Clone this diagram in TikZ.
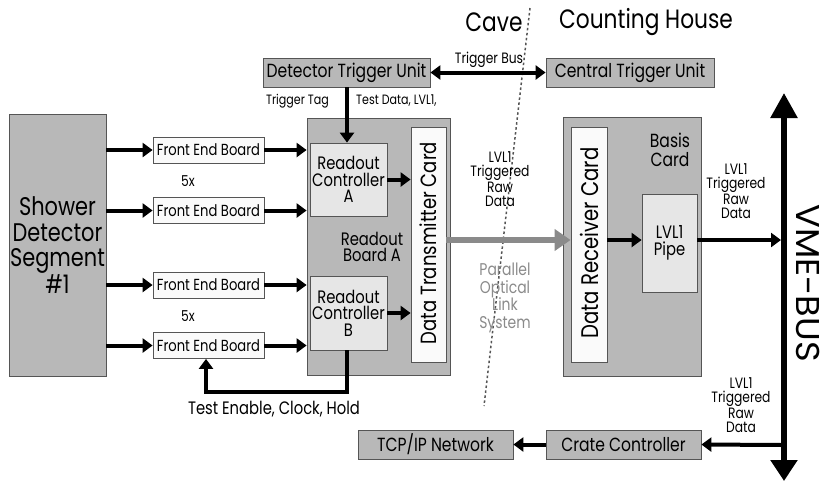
\documentclass[tikz,border=0pt]{standalone}
\usepackage{fontspec}
\setmainfont{Poppins}[FakeStretch=0.82]
\usetikzlibrary{arrows.meta}
\definecolor{boxgray}{HTML}{B8B8B8}
\definecolor{lightbox}{HTML}{E6E6E6}
\definecolor{whitebox}{HTML}{FAFAFA}
\definecolor{edge}{HTML}{555555}
\definecolor{optgray}{HTML}{8A8A8A}
\begin{document}
\begin{tikzpicture}[x=1pt,y=-1pt,
  graybox/.style={draw=edge,line width=0.8pt,fill=boxgray,inner sep=0pt,align=center},
  litebox/.style={draw=edge,line width=0.8pt,fill=lightbox,inner sep=0pt,align=center},
  whbox/.style={draw=edge,line width=0.8pt,fill=whitebox,inner sep=0pt,align=center},
  arr/.style={line width=4pt,-{Triangle[length=10pt,width=14pt]}},
  darr/.style={line width=4pt,{Triangle[length=10pt,width=14pt]}-{Triangle[length=10pt,width=14pt]}},
  lbl/.style={font=\fontsize{15}{14.5}\selectfont,align=center,inner sep=0pt},
  mid/.style={font=\fontsize{18}{16.5}\selectfont},
  unit/.style={graybox,minimum height=29pt,font=\fontsize{19}{19}\selectfont},
  feb/.style={whbox,minimum width=111pt,minimum height=26pt,font=\fontsize{16}{16}\selectfont}]
\useasboundingbox (0,0) rectangle (822,483);
% boxes
\node[graybox,minimum width=97pt,minimum height=262pt,font=\fontsize{25.5}{25.5}\selectfont] (shower) at (57.5,245) {Shower\\Detector\\Segment\\\#1};
\node[feb] (feb1) at (208.5,150) {Front End Board};
\node[feb] (feb2) at (208.5,210.5) {Front End Board};
\node[feb] (feb3) at (208.5,285) {Front End Board};
\node[feb] (feb4) at (208.5,345.5) {Front End Board};
\node[lbl] (fivea) at (188,181) {5x};
\node[lbl] (fiveb) at (188,316) {5x};
\node[graybox,minimum width=143pt,minimum height=257pt] (rba) at (378.5,246.5) {};
\node[litebox,minimum width=77pt,minimum height=73pt,mid] (rca) at (348.5,179.5) {Readout\\Controller\\A};
\node[litebox,minimum width=77pt,minimum height=74pt,mid] (rcb) at (348.5,313) {Readout\\Controller\\B};
\node[mid,align=center,inner sep=0pt] (rbatext) at (372,247) {Readout\\Board A};
\node[whbox,minimum width=35pt,minimum height=235pt] (dtc) at (428.5,244.5) {};
\node[rotate=90,font=\fontsize{22}{22}\selectfont,inner sep=0pt] (dtctext) at (428.5,243) {Data Transmitter Card};
\node[unit,minimum width=167pt] (dtu) at (346.5,72.5) {Detector Trigger Unit};
\node[unit,minimum width=168pt] (ctu) at (630,72.5) {Central Trigger Unit};
\node[graybox,minimum width=138pt,minimum height=259pt] (basis) at (632,246.5) {};
\node[mid,align=center,inner sep=0pt,font=\fontsize{19}{19}\selectfont] (basistext) at (670,150) {Basis\\Card};
\node[whbox,minimum width=36pt,minimum height=235pt] (drc) at (589,244.5) {};
\node[rotate=90,font=\fontsize{24}{24}\selectfont,inner sep=0pt] (drctext) at (589,243) {Data Receiver Card};
\node[litebox,minimum width=55pt,minimum height=98pt,mid] (pipe) at (669.5,243) {LVL1\\Pipe};
\node[unit,minimum width=155pt] (crate) at (623.5,444.5) {Crate Controller};
\node[unit,minimum width=155pt] (tcp) at (435.5,444.5) {TCP/IP Network};
% headings
\node[font=\fontsize{26.5}{26.5}\selectfont,inner sep=0pt] (cave) at (494,22) {Cave};
\node[font=\fontsize{26.5}{26.5}\selectfont,inner sep=0pt] (counting) at (646,22) {Counting House};
% dotted separator
\coordinate (sepa) at (530,8);
\coordinate (sepb) at (484,406);
\draw[line width=1.5pt,dash pattern=on 2.5pt off 2.5pt,edge] (sepa) -- (sepb);
% arrows shower -> FEB -> RBA
\foreach \i/\y in {1/150,2/210.5,3/285,4/345.5}{
  \draw[arr] (shower.east |- 0,\y) -- (feb\i.west);
  \draw[arr] (feb\i.east) -- (rba.west |- 0,\y);
}
\draw[arr] (rca.east) -- (dtc.west |- rca.east);
\draw[arr] (rcb.east) -- (dtc.west |- rcb.east);
\draw[arr] (dtu.south -| 347,0) -- (rca.north -| 347,0);
\node[lbl,anchor=east,font=\fontsize{13.5}{13.5}\selectfont] (ttag) at (329,101) {Trigger Tag};
\node[lbl,anchor=west,font=\fontsize{13.5}{13.5}\selectfont] (tdata) at (356,101) {Test Data, LVL1,};
\draw[darr] (dtu.east) -- (ctu.west);
\node[lbl] (tbus) at (489,60) {Trigger Bus};
% optical link
\draw[optgray,line width=6pt,-{Triangle[length=16pt,width=21pt]}] (dtc.east |- 0,240) -- (drc.west |- 0,240);
\node[lbl] (lvla) at (500,179) {LVL1\\Triggered\\Raw\\Data};
\node[lbl,text=optgray,font=\fontsize{17}{17.5}\selectfont] (pols) at (505,298) {Parallel\\Optical\\Link\\System};
\draw[arr] (drc.east |- 0,240) -- (pipe.west |- 0,240);
% VME bus
\coordinate (vtop) at (784,93);
\coordinate (vbot) at (784,481);
\draw[line width=5.5pt,{Triangle[length=25pt,width=26pt]}-{Triangle[length=21pt,width=26pt]}] (vtop) -- (vbot);
\node[rotate=-90,font=\fontsize{33}{33}\selectfont,inner sep=0pt] (vme) at (808,283) {\scalebox{1.3}[1]{VME-BUS}};
\coordinate (vpipe) at (781,240);
\draw[arr] (pipe.east |- 0,240) -- (vpipe);
\node[lbl] (lvlb) at (736,191) {LVL1\\Triggered\\Raw\\Data};
\coordinate (vcrate) at (782,445);
\draw[arr] (vcrate) -- (crate.east);
\node[lbl] (lvlc) at (741,405) {LVL1\\Triggered\\Raw\\Data};
\draw[arr] (crate.west) -- (tcp.east);
% test enable
\draw[arr] (rcb.south -| 347,0) -- (347,392) -- (206,392) -- (feb4.south -| 206,0);
\node[lbl,font=\fontsize{18}{18}\selectfont] (tec) at (274,409) {Test Enable, Clock, Hold};
\end{tikzpicture}
\end{document}
